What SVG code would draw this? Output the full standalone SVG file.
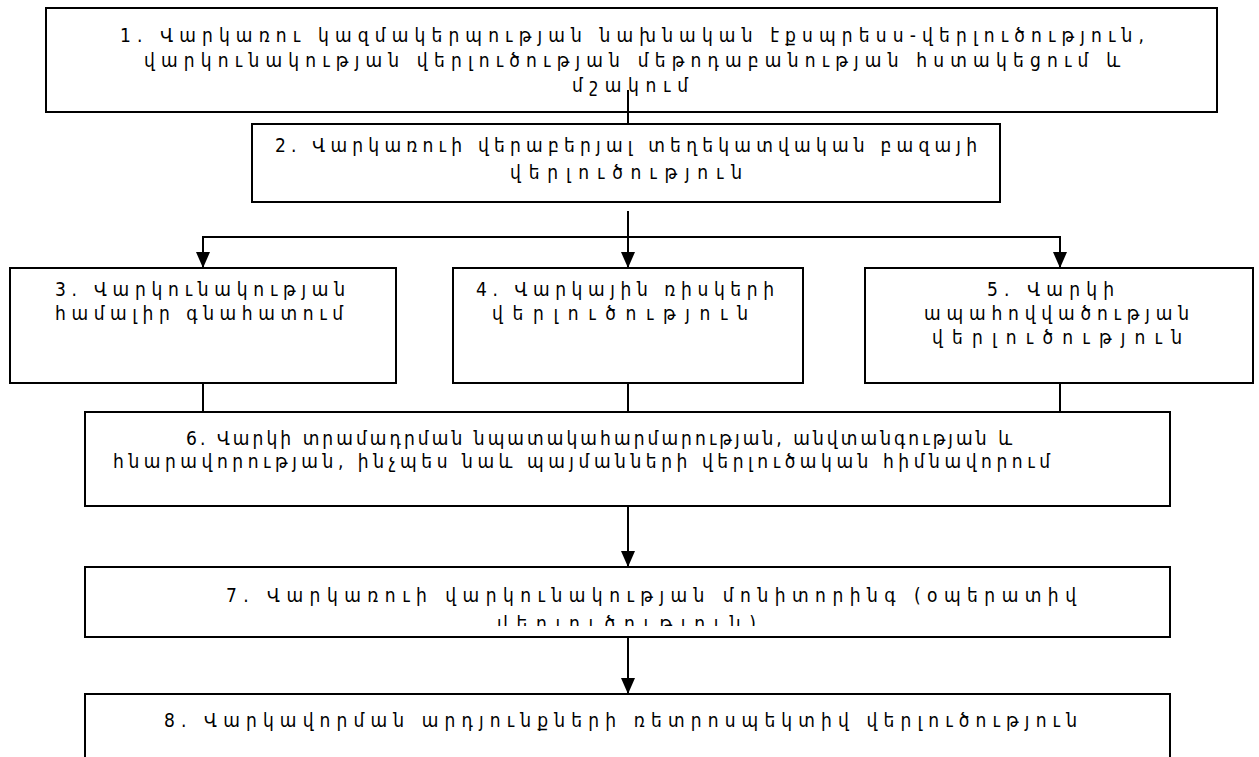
<svg xmlns="http://www.w3.org/2000/svg" width="1259" height="757" viewBox="0 0 1259 757">
<style>
.box{fill:#fff;stroke:#000;stroke-width:2}
.ln{fill:none;stroke:#000;stroke-width:2}
text{font-family:"DejaVu Sans","Noto Sans",sans-serif;font-stretch:condensed;font-size:19px;fill:#000}
</style>
<defs>
<marker id="ah" viewBox="0 0 16 14" refX="16" refY="7" markerWidth="16" markerHeight="14" markerUnits="userSpaceOnUse" orient="auto"><path d="M0,0 L16,7 L0,14 z" fill="#000"/></marker>
<clipPath id="c7"><rect x="85" y="567" width="1085" height="59"/></clipPath>
</defs>
<rect width="1259" height="757" fill="#fff"/>
<g id="connectors">
<line class="ln" x1="628" y1="112" x2="628" y2="124"/>
<line class="ln" x1="628" y1="211" x2="628" y2="268" marker-end="url(#ah)"/>
<polyline class="ln" points="203,268 203,237 1060,237 1060,268"/>
<line class="ln" x1="203" y1="250" x2="203" y2="268" marker-end="url(#ah)"/>
<line class="ln" x1="1060" y1="250" x2="1060" y2="268" marker-end="url(#ah)"/>
<line class="ln" x1="203" y1="383" x2="203" y2="412"/>
<line class="ln" x1="628" y1="383" x2="628" y2="412"/>
<line class="ln" x1="1060" y1="383" x2="1060" y2="412"/>
<line class="ln" x1="628" y1="506" x2="628" y2="567" marker-end="url(#ah)"/>
<line class="ln" x1="628" y1="637" x2="628" y2="694" marker-end="url(#ah)"/>
</g>
<g id="n1"><rect class="box" x="46" y="8" width="1171" height="104"/>
<text x="120" y="42" textLength="1024" lengthAdjust="spacing">1. Վարկառու կազմակերպության նախնական էքսպրեսս-վերլուծություն,</text>
<text x="144" y="67" textLength="976" lengthAdjust="spacing">վարկունակության վերլուծության մեթոդաբանության հստակեցում և</text>
<text x="572" y="92" textLength="116" lengthAdjust="spacing">մշակում</text>
<line class="ln" x1="628" y1="90" x2="628" y2="112"/></g>
<g id="n2"><rect class="box" x="252" y="124" width="748" height="78"/>
<text x="275" y="152" textLength="702" lengthAdjust="spacing">2. Վարկառուի վերաբերյալ տեղեկատվական բազայի</text>
<text x="510" y="179" textLength="232" lengthAdjust="spacing">վերլուծություն</text></g>
<g id="n3"><rect class="box" x="10" y="268" width="386" height="115"/>
<text x="55" y="296" textLength="290" lengthAdjust="spacing">3. Վարկունակության</text>
<text x="55" y="320" textLength="288" lengthAdjust="spacing">համալիր գնահատում</text></g>
<g id="n4"><rect class="box" x="453" y="268" width="350" height="115"/>
<text x="476" y="296" textLength="298" lengthAdjust="spacing">4. Վարկային ռիսկերի</text>
<text x="492" y="320" textLength="256" lengthAdjust="spacing">վերլուծություն</text></g>
<g id="n5"><rect class="box" x="865" y="268" width="388" height="115"/>
<text x="987" y="296" textLength="127" lengthAdjust="spacing">5. Վարկի</text>
<text x="924" y="320" textLength="265" lengthAdjust="spacing">ապահովվածության</text>
<text x="932" y="344" textLength="250" lengthAdjust="spacing">վերլուծություն</text></g>
<g id="n6"><rect class="box" x="85" y="412" width="1085" height="94"/>
<text x="186" y="445" textLength="826" lengthAdjust="spacing">6. Վարկի տրամադրման նպատակահարմարության, անվտանգության և</text>
<text x="113" y="468" textLength="937" lengthAdjust="spacing">հնարավորության, ինչպես նաև պայմանների վերլուծական հիմնավորում</text></g>
<g id="n7"><rect class="box" x="85" y="567" width="1085" height="70"/>
<text x="226" y="602" textLength="850" lengthAdjust="spacing">7. Վարկառուի վարկունակության մոնիտորինգ (օպերատիվ</text>
<text x="497" y="630" textLength="259" lengthAdjust="spacing" clip-path="url(#c7)">վերլուծություն)</text></g>
<g id="n8"><rect class="box" x="85" y="694" width="1085" height="90"/>
<text x="164" y="727" textLength="913" lengthAdjust="spacing">8. Վարկավորման արդյունքների ռետրոսպեկտիվ վերլուծություն</text></g>
</svg>
